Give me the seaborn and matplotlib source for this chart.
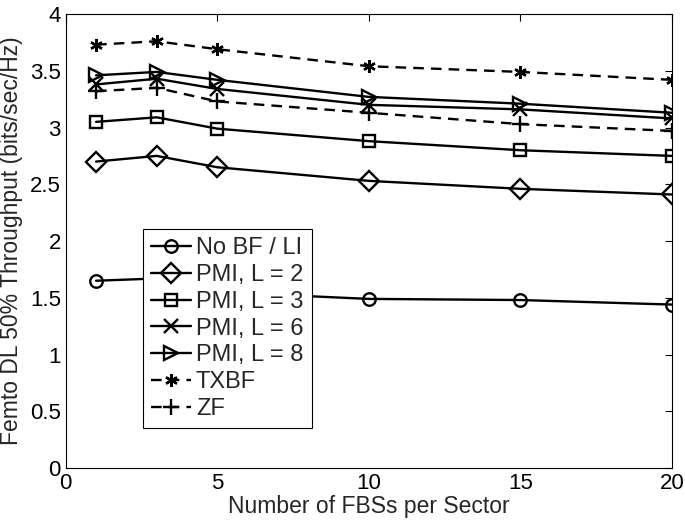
import matplotlib
matplotlib.use("Agg")
from matplotlib import pyplot as plt
from matplotlib.ticker import FuncFormatter
import seaborn as sns

# number of femto base stations per sector
fbs = [1, 3, 5, 10, 15, 20]

no_bf = [1.65, 1.67, 1.55, 1.49, 1.48, 1.44]
pmi_l2 = [2.70, 2.75, 2.65, 2.53, 2.46, 2.41]
pmi_l3 = [3.05, 3.09, 2.99, 2.88, 2.80, 2.75]
pmi_l6 = [3.38, 3.43, 3.34, 3.20, 3.16, 3.08]
pmi_l8 = [3.46, 3.49, 3.42, 3.27, 3.21, 3.13]
txbf = [3.73, 3.76, 3.69, 3.54, 3.49, 3.42]
zf = [3.32, 3.35, 3.23, 3.13, 3.03, 2.97]

labels = ['No BF / LI', 'PMI, L = 2', 'PMI, L = 3', 'PMI, L = 6',
          'PMI, L = 8', 'TXBF', 'ZF']

sns.set_style('white')
plt.rcParams['font.family'] = ['Liberation Sans', 'DejaVu Sans']

fig = plt.figure(figsize=(6.85, 5.2), dpi=100)
ax = fig.add_axes([0.096, 0.1, 0.885, 0.873])

series = [no_bf, pmi_l2, pmi_l3, pmi_l6, pmi_l8, txbf, zf]
markers = ['o', 'D', 's', 'x', '>', (6, 2, 0), '+']
sizes = [9, 10, 8, 10, 10, 9, 11]
dashed = (0, (4.5, 3))
styles = ['-', '-', '-', '-', '-', dashed, dashed]

for vals, lab, m, ms, ls in zip(series, labels, markers, sizes, styles):
    sns.lineplot(x=fbs, y=vals, ax=ax, color='black', marker=m, markersize=ms,
                 markerfacecolor='none', markeredgecolor='black',
                 markeredgewidth=1.7, linewidth=1.7, linestyle=ls, label=lab)

ax.set_xlim(0, 20)
ax.set_ylim(0, 4)
ax.set_xticks([0, 5, 10, 15, 20])
ax.set_yticks([0, 0.5, 1, 1.5, 2, 2.5, 3, 3.5, 4])
ax.yaxis.set_major_formatter(FuncFormatter(lambda v, p: '%g' % v))
ax.tick_params(direction='in', length=5, width=0.8, top=True, right=True,
               labelsize=16, colors='black')
for s in ax.spines.values():
    s.set_color('black')
    s.set_linewidth(0.8)

ax.set_xlabel('Number of FBSs per Sector', fontsize=16.5, labelpad=1)
ax.set_ylabel('Femto DL 50% Throughput (bits/sec/Hz)', fontsize=16.5, labelpad=5)

leg = ax.legend(loc='upper left', bbox_to_anchor=(0.127, 0.526), fontsize=17,
                frameon=True, fancybox=False, edgecolor='black', framealpha=1,
                handlelength=1.7, handletextpad=0.2, labelspacing=0.2,
                borderpad=0.35, borderaxespad=0)
leg.get_frame().set_linewidth(0.8)

fig.savefig('out.png', dpi=100)
